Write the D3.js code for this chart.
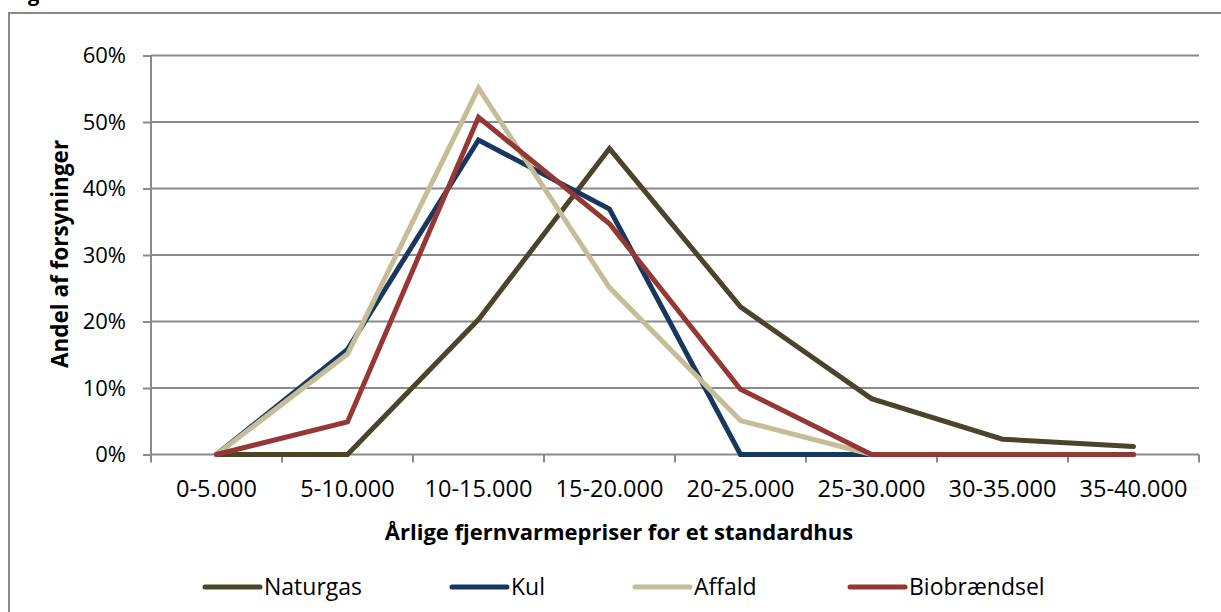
<!DOCTYPE html>
<html><head><meta charset="utf-8">
<script src="https://cdn.jsdelivr.net/npm/d3@7"></script>
<style>
body{margin:0;background:#fff;}
svg text{font-family:"Open Sans",sans-serif;fill:#000;}
</style></head>
<body><svg id="c" width="1221" height="612"></svg>
<script>
const categories = ["0-5.000","5-10.000","10-15.000","15-20.000","20-25.000","25-30.000","30-35.000","35-40.000"];
const naturgas = [0, 0, 20.3, 46.0, 22.2, 8.4, 2.3, 1.2];
const kul = [0, 15.8, 47.3, 36.9, 0, 0, 0, 0];
const affald = [0, 15.1, 55.1, 25.1, 5.1, 0, 0, 0];
const biobraendsel = [0, 4.9, 50.7, 34.7, 9.8, 0, 0, 0];
const seriesNames = ["Naturgas","Kul","Affald","Biobrændsel"];
const yTicks = [0,10,20,30,40,50,60];
const colors = ["#4A452A","#17375E","#C4BD97","#953735"];
const series = [naturgas, kul, affald, biobraendsel];

const svg = d3.select("#c");
const L = 151, R = 1199, T = 55.5, B = 454.5;
const gridCol = "#8a8a8a";
const FONT = "'Open Sans',sans-serif";

// outer border
svg.append("rect").attr("x",9).attr("y",13).attr("width",1240).attr("height",640)
  .attr("fill","none").attr("stroke",gridCol).attr("stroke-width",2);
// cut-off title descender (title is cropped in the source image)
svg.append("text").attr("x",28).attr("y",1).attr("font-size",20).attr("font-weight","bold").text("g");

const x = d3.scaleBand().domain(categories).range([L,R]).padding(0);
const y = d3.scaleLinear().domain([0,60]).range([B,T]);

// gridlines
svg.append("g").selectAll("line").data(yTicks.filter(d=>d>0)).join("line")
  .attr("x1",L).attr("x2",R).attr("y1",d=>y(d)).attr("y2",d=>y(d))
  .attr("stroke",gridCol).attr("stroke-width",2);

// y axis
const ya = svg.append("g").attr("transform",`translate(${L},0)`)
  .call(d3.axisLeft(y).tickValues(yTicks).tickFormat(d=>d+"%").tickSize(8).tickPadding(17));
ya.select(".domain").attr("stroke",gridCol).attr("stroke-width",2).attr("d",`M0,${B}V${T}`);
ya.selectAll(".tick line").attr("stroke",gridCol).attr("stroke-width",2);
ya.selectAll(".tick text").attr("font-size",22).attr("font-family",FONT).attr("fill","#000");

// x axis
const xa = svg.append("g").attr("transform",`translate(0,${B})`)
  .call(d3.axisBottom(x).tickSize(0).tickPadding(26));
xa.select(".domain").attr("stroke",gridCol).attr("stroke-width",2).attr("d",`M${L},0H${R}`);
xa.selectAll(".tick text").attr("font-size",23.5).attr("font-family",FONT).attr("fill","#000");
// x tick marks at band boundaries
const bounds = categories.map(c=>x(c)).concat([R]);
svg.append("g").selectAll("line").data(bounds).join("line")
  .attr("x1",d=>d).attr("x2",d=>d).attr("y1",B).attr("y2",B+8)
  .attr("stroke",gridCol).attr("stroke-width",2);

// lines
const line = d3.line().x((d,i)=>x(categories[i])+x.bandwidth()/2).y(d=>y(d));
series.forEach((s,k)=>{
  svg.append("path").datum(s).attr("d",line).attr("fill","none")
    .attr("stroke",colors[k]).attr("stroke-width",5)
    .attr("stroke-linejoin","miter").attr("stroke-linecap","round");
});

// axis titles
svg.append("text").attr("x",619).attr("y",540).attr("text-anchor","middle")
  .attr("font-size",22).attr("font-weight","bold").text("Årlige fjernvarmepriser for et standardhus");
svg.append("text").attr("transform","translate(68,254) rotate(-90)").attr("text-anchor","middle")
  .attr("font-size",22.5).attr("font-weight","bold").text("Andel af forsyninger");

// legend
const legX = [205, 452, 635, 850];
seriesNames.forEach((n,k)=>{
  const g = svg.append("g");
  g.append("line").attr("x1",legX[k]).attr("x2",legX[k]+55).attr("y1",587).attr("y2",587)
    .attr("stroke",colors[k]).attr("stroke-width",5).attr("stroke-linecap","round");
  g.append("text").attr("x",legX[k]+59).attr("y",595).attr("font-size",23).text(n);
});
</script></body></html>
